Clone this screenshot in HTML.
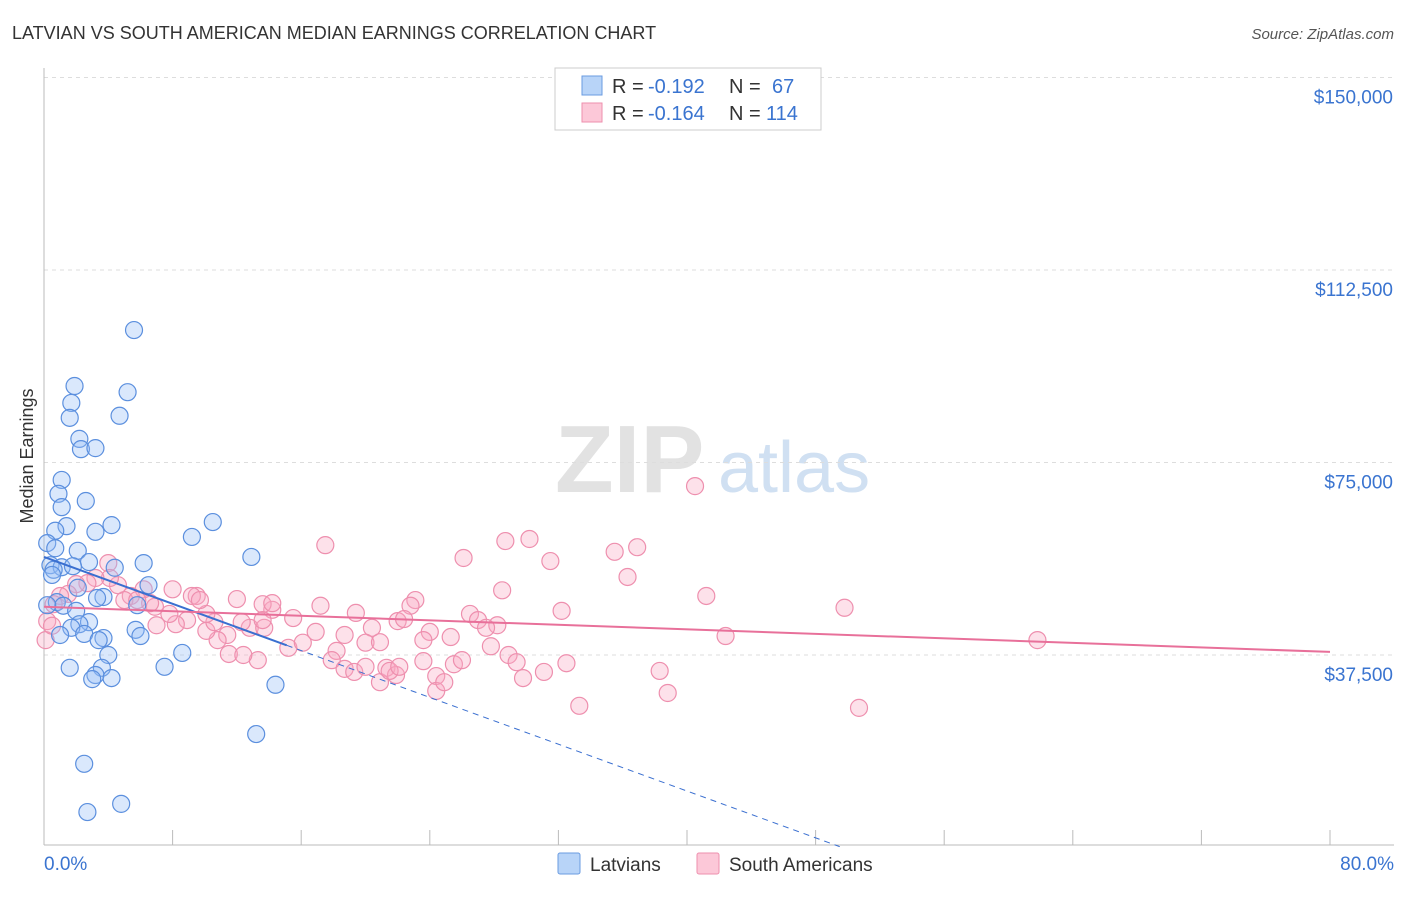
<!DOCTYPE html>
<html><head><meta charset="utf-8">
<style>
body{margin:0;background:#fff;font-family:"Liberation Sans",sans-serif;}
svg text{font-family:"Liberation Sans",sans-serif;}
</style></head>
<body>
<svg id="chart" width="1406" height="892" xmlns="http://www.w3.org/2000/svg">
<text x="12" y="39" font-size="18" fill="#333">LATVIAN VS SOUTH AMERICAN MEDIAN EARNINGS CORRELATION CHART</text>
<text x="1394" y="39" font-size="15" fill="#555" text-anchor="end" font-style="italic">Source: ZipAtlas.com</text>
<text transform="translate(33,456) rotate(-90)" font-size="18" fill="#333" text-anchor="middle">Median Earnings</text>
<g>
<text x="555" y="492" font-size="96" fill="#e2e2e2" font-family="Liberation Serif" font-weight="bold">ZIP</text>
<text x="718" y="492" font-size="72" fill="#d0e0f2">atlas</text>
</g>
<g id="grid"></g><g id="axes"></g><g id="pink"></g><g id="blue"></g><g id="trends"></g>
<g>
<rect x="555" y="68" width="266" height="62" fill="#fff" stroke="#ccc"/>
<rect x="582" y="76" width="20" height="19" fill="#b8d4f8" stroke="#6a9be0"/>
<rect x="582" y="103" width="20" height="19" fill="#fcc8d8" stroke="#ee8fae"/>
<text x="612" y="93" font-size="20" fill="#333">R =</text>
<text x="648" y="93" font-size="20" fill="#3a74d0">-0.192</text>
<text x="729" y="93" font-size="20" fill="#333">N =</text>
<text x="772" y="93" font-size="20" fill="#3a74d0">67</text>
<text x="612" y="120" font-size="20" fill="#333">R =</text>
<text x="648" y="120" font-size="20" fill="#3a74d0">-0.164</text>
<text x="729" y="120" font-size="20" fill="#333">N =</text>
<text x="766" y="120" font-size="20" fill="#3a74d0">114</text>
</g>
<g>
<rect x="558" y="853" width="22" height="21" fill="#b8d4f8" stroke="#6a9be0" rx="2"/>
<text x="590" y="871" font-size="19" fill="#333">Latvians</text>
<rect x="697" y="853" width="22" height="21" fill="#fcc8d8" stroke="#ee8fae" rx="2"/>
<text x="729" y="871" font-size="19" fill="#333">South Americans</text>
</g>
</svg>
<script>
const yTicks=[37500,75000,112500,150000];
const yTickLabels=["$37,500","$75,000","$112,500","$150,000"];
const xLabels=["0.0%","80.0%"];
const blueX=[5.6,1.9,5.2,1.7,1.6,4.7,2.2,2.3,3.2,1.1,0.9,2.6,1.1,10.5,1.4,4.2,0.7,3.2,9.2,0.2,0.7,2.1,12.9,6.2,2.8,0.4,1.1,1.8,0.6,4.4,0.5,6.5,2.1,3.7,0.8,3.3,1.2,5.8,0.2,2.0,2.8,2.2,1.7,5.7,1.0,2.5,6.0,3.7,3.4,4.0,8.6,3.6,1.6,7.5,3.2,3.0,4.2,14.4,13.2,2.5,4.8,2.7];
const blueY=[100.8,89.9,88.7,86.6,83.7,84.1,79.6,77.6,77.8,71.6,68.9,67.5,66.3,63.4,62.6,62.8,61.7,61.5,60.5,59.3,58.3,57.8,56.6,55.4,55.6,55.0,54.6,54.8,54.1,54.5,53.1,51.1,50.6,48.8,47.8,48.6,47.1,47.2,47.2,46.1,43.9,43.5,42.8,42.4,41.4,41.6,41.2,40.8,40.4,37.5,37.9,35.0,35.0,35.2,33.6,32.8,33.0,31.7,22.1,16.3,8.5,6.9];
const pinkX=[40.5,26.1,28.7,30.2,17.5,31.5,35.5,36.9,36.3,28.5,41.2,32.2,49.8,42.4,61.8,19.4,17.2,23.1,22.8,26.5,27.0,28.2,27.5,24.0,22.0,22.4,20.4,18.7,20.0,20.9,18.2,16.9,15.5,14.2,13.6,14.2,12.0,12.8,13.7,13.6,12.3,11.4,10.8,10.1,10.6,9.5,10.1,9.2,8.9,8.2,7.8,8.0,7.0,6.9,6.6,6.2,5.4,5.0,5.8,4.6,4.0,4.1,3.2,2.7,2.0,1.5,1.0,0.6,0.2,0.1,15.2,16.1,17.9,18.7,19.3,20.0,20.9,21.3,21.9,21.5,22.1,23.6,23.6,25.3,24.4,24.4,24.9,25.5,26.0,27.8,28.9,29.4,29.8,31.1,32.5,33.3,38.3,38.8,50.7,11.5,13.3,12.4,0.5,9.7];
const pinkY=[70.4,56.4,59.7,60.1,58.9,55.8,57.6,58.5,52.7,50.1,49.0,46.1,46.7,41.2,40.4,45.7,47.1,48.2,47.1,45.5,44.3,43.3,42.8,42.0,44.1,44.5,42.8,41.4,39.9,40.0,38.3,42.0,44.7,46.3,47.4,47.6,48.4,42.8,42.8,44.3,43.9,41.4,40.4,42.2,43.9,49.0,45.5,49.0,44.3,43.5,45.5,50.3,43.3,46.9,47.6,50.3,49.0,48.2,48.2,51.1,55.4,52.5,52.5,51.5,51.3,49.4,49.0,47.4,44.1,40.4,38.9,39.9,36.5,34.8,34.2,35.2,32.2,35.0,33.6,34.4,35.2,36.3,40.4,41.0,33.4,30.5,32.2,35.7,36.5,39.2,37.5,36.1,33.0,34.2,35.9,27.6,34.4,30.1,27.2,37.7,36.5,37.5,43.2,48.2];
const blueTrend=[56.6,-1.14];
const pinkTrend=[46.9,-0.11];
const X=v=>44+v/80*1286;
const Y=v=>847.5-v/37500*192.5;
const NS="http://www.w3.org/2000/svg";
function mk(p,t,a){const e=document.createElementNS(NS,t);for(const k in a)e.setAttribute(k,a[k]);document.getElementById(p).appendChild(e);return e;}
yTicks.forEach((t,i)=>{
 const l=mk('grid','line',{x1:44,x2:1394,y1:Y(t),y2:Y(t),stroke:'#ddd','stroke-dasharray':'4,4'});
 
 
 const tx=mk('axes','text',{x:1393,y:Y(t)+26,'font-size':19,fill:'#3a74d0','text-anchor':'end'});
 tx.textContent=yTickLabels[i];
 
 
});
const ax=mk('axes','line',{x1:44,x2:1394,y1:845,y2:845,stroke:'#bbb'});


const ay=mk('axes','line',{x1:44,x2:44,y1:68,y2:845,stroke:'#bbb'});


for(let i=0;i<=10;i++){const t=mk('axes','line',{x1:X(i*8),x2:X(i*8),y1:830,y2:845,stroke:'#bbb'});
 
 }
[[0,'start',44],[80,'end',1394]].forEach((d,i)=>{const t=mk('axes','text',{x:d[2],y:870,'font-size':19,fill:'#3a74d0','text-anchor':d[1]});t.textContent=xLabels[i];
 
 });
pinkX.forEach((x,i)=>{const c=mk('pink','circle',{cx:X(x),cy:Y(pinkY[i]*1000),r:8.5,fill:'rgba(248,170,195,0.35)',stroke:'#ee8fae','stroke-width':1.2});
 
 });
blueX.forEach((x,i)=>{const c=mk('blue','circle',{cx:X(x),cy:Y(blueY[i]*1000),r:8.5,fill:'rgba(150,190,245,0.35)',stroke:'#5b8fde','stroke-width':1.2});
 
 });
const bf=x=>(blueTrend[0]+blueTrend[1]*x)*1000;
const b1=mk('trends','line',{x1:X(0),y1:Y(bf(0)),x2:X(15.1),y2:Y(bf(15.1)),stroke:'#3a6fd0','stroke-width':2});


const b2=mk('trends','line',{x1:X(15.1),y1:Y(bf(15.1)),x2:X(49.5),y2:Y(bf(49.5)),stroke:'#3a6fd0','stroke-width':1,'stroke-dasharray':'6,5'});


const pf=x=>(pinkTrend[0]+pinkTrend[1]*x)*1000;
const p1=mk('trends','line',{x1:X(0),y1:Y(pf(0)),x2:X(80),y2:Y(pf(80)),stroke:'#e8709a','stroke-width':2});


</script>
</body></html>
